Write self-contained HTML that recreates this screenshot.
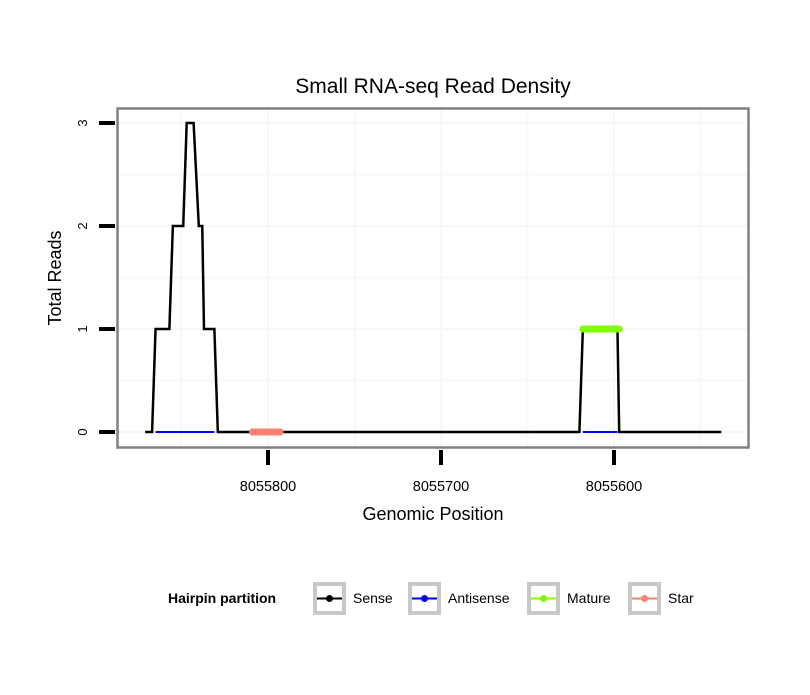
<!DOCTYPE html>
<html><head><meta charset="utf-8"><style>
body{margin:0;background:#fff;font-family:"Liberation Sans",sans-serif}
</style></head><body>
<svg id="chart" width="810" height="690" xmlns="http://www.w3.org/2000/svg">
<rect width="810" height="690" fill="#fff"/>
<text x="433" y="93" font-size="21" text-anchor="middle">Small RNA-seq Read Density</text>
<g id="grid"></g>
<g id="marks"></g>
<rect x="117.5" y="108.5" width="631" height="339" fill="none" stroke="#808080" stroke-width="2.5"/>
<g id="axes"></g>
<text x="433" y="520" font-size="18" text-anchor="middle">Genomic Position</text>
<text transform="translate(61,278) rotate(-90)" font-size="18" text-anchor="middle">Total Reads</text>
<g>
<text x="168" y="603" font-size="14" font-weight="bold">Hairpin partition</text>
<g id="legend"></g>
</g>
</svg>
<script>
const ticksX = [8055800, 8055700, 8055600];
const gridMinorX = [8055850, 8055750, 8055650, 8055550];
const ticksY = [0, 1, 2, 3];
const senseX = [8055871, 8055867, 8055865, 8055857, 8055855, 8055849, 8055847, 8055843, 8055840, 8055838, 8055837, 8055831, 8055829, 8055620, 8055618, 8055598, 8055597, 8055538];
const senseY = [0, 0, 1, 1, 2, 2, 3, 3, 2, 2, 1, 1, 0, 0, 1, 1, 0, 0];
const antisenseRanges = [[8055865, 8055831], [8055618, 8055598]];
const matureRange = [8055618, 8055597];
const matureY = 1;
const starRange = [8055809, 8055793];
const starY = 0;
const legendLabels = ["Sense", "Antisense", "Mature", "Star"];
const legendColors = ["#000000", "#0000ff", "#7fff00", "#fa8072"];

const NS = "http://www.w3.org/2000/svg";
const xs = v => 268 + (8055800 - v) * 1.73;
const ys = v => 432 - v * 103;
function mk(t, a, parent) { const e = document.createElementNS(NS, t); for (const k in a) e.setAttribute(k, a[k]); parent.appendChild(e); return e; }
const grid = document.getElementById('grid'), marks = document.getElementById('marks'), axes = document.getElementById('axes'), legend = document.getElementById('legend');

gridMinorX.concat(ticksX).forEach(v => {
  const l = mk('line', {x1: xs(v), x2: xs(v), y1: 109, y2: 447, stroke: '#f7f7f7', 'stroke-width': 2}, grid);
  
  
});
[0, 0.5, 1, 1.5, 2, 2.5, 3].forEach(v => {
  const l = mk('line', {x1: 118, x2: 748, y1: ys(v), y2: ys(v), stroke: '#f7f7f7', 'stroke-width': 2}, grid);
  
  
});

const pts = senseX.map((x, i) => xs(x) + ',' + ys(senseY[i])).join(' ');
const sl = mk('polyline', {points: pts, fill: 'none', stroke: '#000', 'stroke-width': 2.5}, marks);


antisenseRanges.forEach(r => {
  const l = mk('line', {x1: xs(r[0]), x2: xs(r[1]), y1: ys(0), y2: ys(0), stroke: '#0000ff', 'stroke-width': 2}, marks);
  
  
});
const ml = mk('line', {x1: xs(matureRange[0]), x2: xs(matureRange[1]), y1: ys(matureY), y2: ys(matureY), stroke: '#7fff00', 'stroke-width': 7, 'stroke-linecap': 'round'}, marks);


const st = mk('line', {x1: xs(starRange[0]), x2: xs(starRange[1]), y1: ys(starY), y2: ys(starY), stroke: '#fa8072', 'stroke-width': 7, 'stroke-linecap': 'round'}, marks);



ticksX.forEach(v => {
  const t = mk('line', {x1: xs(v), x2: xs(v), y1: 450, y2: 465, stroke: '#000', 'stroke-width': 4}, axes);
  
  
  const tx = mk('text', {x: xs(v), y: 491, 'font-size': 14.5, 'text-anchor': 'middle'}, axes);
  tx.textContent = v;
  
  
});
ticksY.forEach(v => {
  const t = mk('line', {x1: 99, x2: 115, y1: ys(v), y2: ys(v), stroke: '#000', 'stroke-width': 4}, axes);
  
  
  const tx = mk('text', {transform: `translate(87,${ys(v)}) rotate(-90)`, 'font-size': 13, 'text-anchor': 'middle'}, axes);
  tx.textContent = v;
  
  
});

const lx = [313, 408, 527, 628];
legendLabels.forEach((lab, i) => {
  const g = mk('g', {}, legend);
  
  
  mk('rect', {x: lx[i] + 2, y: 584, width: 29, height: 29, fill: '#fff', stroke: '#c8c8c8', 'stroke-width': 4}, g);
  mk('line', {x1: lx[i] + 4, x2: lx[i] + 29, y1: 598.5, y2: 598.5, stroke: legendColors[i], 'stroke-width': 2}, g);
  mk('circle', {cx: lx[i] + 16.5, cy: 598.5, r: 3.5, fill: legendColors[i]}, g);
  const t = mk('text', {x: lx[i] + 40, y: 603, 'font-size': 14}, g);
  t.textContent = lab;
});
</script>
</body></html>
